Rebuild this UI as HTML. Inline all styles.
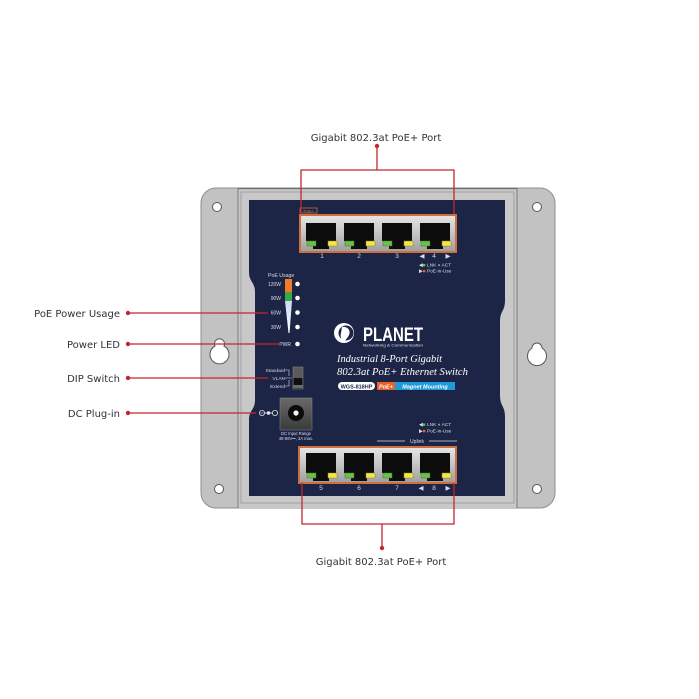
<!DOCTYPE html>
<html>
<head>
<meta charset="utf-8">
<style>
html,body{margin:0;padding:0;background:#fff;}
svg{display:block;}
.lbl{font-family:"DejaVu Sans","Liberation Sans",sans-serif;font-size:10px;fill:#333;}
.t{font-family:"Liberation Sans",sans-serif;fill:#d8dbe6;}
</style>
</head>
<body>
<svg width="699" height="699" viewBox="0 0 699 699" xmlns="http://www.w3.org/2000/svg">
<defs>
  <linearGradient id="pg" x1="0" y1="0" x2="0" y2="1">
    <stop offset="0" stop-color="#e6e6e6"/>
    <stop offset="0.5" stop-color="#c4c4c4"/>
    <stop offset="1" stop-color="#9e9e9e"/>
  </linearGradient>
  <linearGradient id="bar" x1="0" y1="0" x2="0" y2="1">
    <stop offset="0" stop-color="#c6dcf2"/>
    <stop offset="1" stop-color="#ffffff"/>
  </linearGradient>
  <linearGradient id="dc" x1="0" y1="0" x2="0" y2="1">
    <stop offset="0" stop-color="#6a6a6a"/>
    <stop offset="1" stop-color="#3a3a3a"/>
  </linearGradient>
</defs>

<!-- bracket / body -->
<rect x="201" y="188" width="354" height="320" rx="15" ry="15" fill="#c2c2c2" stroke="#8e8e8e" stroke-width="1"/>
<rect x="238" y="188" width="279" height="320" fill="#c8c8c8"/>
<line x1="238" y1="188" x2="238" y2="508" stroke="#7c7c7c" stroke-width="1"/>
<line x1="517" y1="188" x2="517" y2="508" stroke="#7c7c7c" stroke-width="1"/>
<rect x="241" y="192" width="273" height="311" fill="none" stroke="#a0a0a0" stroke-width="1"/>
<line x1="238" y1="188.5" x2="517" y2="188.5" stroke="#6e6e6e" stroke-width="1.2"/>

<!-- navy panel -->
<path d="M249,200 L505,200 L505,300 C505,312 500,310 500,322 L500,395 C500,407 505,405 505,417 L505,496 L249,496 L249,420 C249,410 255,410 255,400 L255,292 C255,282 249,282 249,272 Z" fill="#1d2546"/>

<!-- screw holes -->
<circle cx="217" cy="207" r="4.5" fill="#fff" stroke="#555" stroke-width="1"/>
<circle cx="219" cy="489" r="4.5" fill="#fff" stroke="#555" stroke-width="1"/>
<circle cx="537" cy="207" r="4.5" fill="#fff" stroke="#555" stroke-width="1"/>
<circle cx="537" cy="489" r="4.5" fill="#fff" stroke="#555" stroke-width="1"/>
<!-- keyholes -->
<g fill="#fff" stroke="#555" stroke-width="1">
  <path d="M215,346 A5,5 0 1 1 224,346 A9.5,9.5 0 1 1 215,346 Z"/>
  <path d="M532,348 A5,5 0 1 1 542,348 A9.5,9.5 0 1 1 532,348 Z"/>
</g>

<!-- top port box -->
<rect x="300" y="208" width="17" height="5" fill="none" stroke="#d8713a" stroke-width="0.7"/>
<text x="308.5" y="212.3" font-family="Liberation Sans,sans-serif" font-size="4" fill="#e07a3c" text-anchor="middle">PoE+</text>
<rect x="300" y="215" width="156" height="37" fill="url(#pg)" stroke="#cf6f3e" stroke-width="2"/>
<g id="tp">
  <path d="M306,223 H336 V241 H329 V249 H313 V241 H306 Z" fill="#0c0c0c"/>
  <rect x="307" y="241" width="9" height="5" fill="#6cc04a" stroke="#3d7a2a" stroke-width="0.5"/>
  <rect x="328" y="241" width="9" height="5" fill="#f2e64a" stroke="#8d8420" stroke-width="0.5"/>
</g>
<use href="#tp" x="38"/>
<use href="#tp" x="76"/>
<use href="#tp" x="114"/>
<g class="t" font-size="6.5" text-anchor="middle">
  <text x="322" y="258">1</text>
  <text x="359" y="258">2</text>
  <text x="397" y="258">3</text>
  <text x="434" y="258">4</text>
  <text x="422" y="258">◀</text>
  <text x="448" y="258">▶</text>
</g>
<g class="t" font-size="4.8">
  <text x="419" y="266.5">◀<tspan fill="#5fc04a">■</tspan> LNK <tspan fill="#5fc04a">●</tspan> ACT</text>
  <text x="419" y="272.5">▶<tspan fill="#e8622a">■</tspan> PoE-in-Use</text>
</g>

<!-- bottom port box -->
<g class="t" font-size="4.8">
  <text x="419" y="426">◀<tspan fill="#5fc04a">■</tspan> LNK <tspan fill="#5fc04a">●</tspan> ACT</text>
  <text x="419" y="432.5">▶<tspan fill="#e8622a">■</tspan> PoE-in-Use</text>
</g>
<line x1="377" y1="441" x2="405" y2="441" stroke="#d8dbe6" stroke-width="0.7"/>
<line x1="429" y1="441" x2="457" y2="441" stroke="#d8dbe6" stroke-width="0.7"/>
<text class="t" x="417" y="443" font-size="5" text-anchor="middle">Uplink</text>
<rect x="299" y="447" width="157" height="36" fill="url(#pg)" stroke="#cf6f3e" stroke-width="2"/>
<g id="bp">
  <path d="M306,453 H336 V473 H329 V481 H313 V473 H306 Z" fill="#0c0c0c"/>
  <rect x="307" y="473" width="9" height="5" fill="#6cc04a" stroke="#3d7a2a" stroke-width="0.5"/>
  <rect x="328" y="473" width="9" height="5" fill="#f2e64a" stroke="#8d8420" stroke-width="0.5"/>
</g>
<use href="#bp" x="38"/>
<use href="#bp" x="76"/>
<use href="#bp" x="114"/>
<g class="t" font-size="6.5" text-anchor="middle">
  <text x="321" y="490">5</text>
  <text x="359" y="490">6</text>
  <text x="397" y="490">7</text>
  <text x="434" y="490">8</text>
  <text x="421" y="490">◀</text>
  <text x="448" y="490">▶</text>
</g>

<!-- PoE usage LEDs -->
<text class="t" x="268" y="277" font-size="5.2">PoE Usage</text>
<g class="t" font-size="5" text-anchor="end">
  <text x="281" y="286">120W</text>
  <text x="281" y="300">90W</text>
  <text x="281" y="314.5">60W</text>
  <text x="281" y="329">30W</text>
  <text x="291" y="346">PWR</text>
</g>
<rect x="285" y="279" width="7" height="13" fill="#f07c28"/>
<rect x="285" y="292" width="7" height="9" fill="#3aa844"/>
<polygon points="285,301 292,301 289.5,333 288.5,333" fill="url(#bar)"/>
<g fill="#fff">
  <circle cx="297.5" cy="284" r="2.3"/>
  <circle cx="297.5" cy="298" r="2.3"/>
  <circle cx="297.5" cy="312.5" r="2.3"/>
  <circle cx="297.5" cy="327" r="2.3"/>
  <circle cx="297.5" cy="344" r="2.3"/>
</g>

<!-- DIP switch -->
<g class="t" font-size="4.8" text-anchor="end">
  <text x="285" y="372">Standard</text>
  <text x="285" y="380">VLAN</text>
  <text x="285" y="388">Extend</text>
</g>
<path d="M285,370 H289 V376 M285,386 H289 V380 M285,378 H292" stroke="#d8dbe6" stroke-width="0.6" fill="none"/>
<rect x="293" y="367" width="10" height="22" fill="#5a5a5a" stroke="#8a8a8a" stroke-width="0.5"/>
<rect x="293.5" y="378" width="9" height="10.5" fill="#0f0f0f"/>
<rect x="293.5" y="385" width="9" height="3" fill="#6a6a6a"/>

<!-- DC plug -->
<g stroke="#e8e8e8" stroke-width="0.8" fill="none">
  <circle cx="262" cy="413" r="2.6"/>
  <circle cx="275" cy="413" r="2.6"/>
  <line x1="264.6" y1="413" x2="272.4" y2="413"/>
</g>
<circle cx="268.5" cy="413" r="1.8" fill="#e8e8e8"/>
<line x1="260.5" y1="413" x2="263.5" y2="413" stroke="#e8e8e8" stroke-width="0.6"/>
<rect x="280" y="398" width="32" height="32" fill="url(#dc)" stroke="#888" stroke-width="0.5"/>
<circle cx="296" cy="413" r="8" fill="#0a0a0a"/>
<circle cx="296" cy="413" r="2.6" fill="#f2f2f2"/>
<g class="t" font-size="4.2" text-anchor="middle">
  <text x="296" y="435">DC Input Range</text>
  <text x="296" y="440">48-56V⎓, 3A max.</text>
</g>

<!-- PLANET logo -->
<circle cx="344" cy="333" r="10" fill="#fff"/>
<circle cx="346" cy="333" r="7.5" fill="#1d2546"/>
<path d="M342,327 C348,326 351,331 349,335 C347,339 345,340 344,343 C341,340 340,336 341,333 Z" fill="#fff"/>
<text x="363" y="341" font-family="Liberation Sans,sans-serif" font-weight="bold" font-size="19" fill="#fff" textLength="60" lengthAdjust="spacingAndGlyphs">PLANET</text>
<text x="363" y="346.5" font-family="Liberation Sans,sans-serif" font-size="4" fill="#e0e0e0" textLength="60" lengthAdjust="spacingAndGlyphs">Networking &amp; Communication</text>
<text x="337" y="362" font-family="Liberation Serif,serif" font-style="italic" font-size="11" fill="#fff" textLength="105" lengthAdjust="spacingAndGlyphs">Industrial 8-Port Gigabit</text>
<text x="337" y="375" font-family="Liberation Serif,serif" font-style="italic" font-size="11" fill="#fff" textLength="131" lengthAdjust="spacingAndGlyphs">802.3at PoE+ Ethernet Switch</text>
<rect x="338" y="382" width="37" height="8" rx="4" fill="#fff"/>
<text x="356.5" y="388.3" font-family="Liberation Sans,sans-serif" font-weight="bold" font-size="5.5" fill="#1d2546" text-anchor="middle">WGS-818HP</text>
<rect x="377" y="382" width="18" height="8" fill="#e8622a"/>
<text x="386" y="388.3" font-family="Liberation Sans,sans-serif" font-weight="bold" font-style="italic" font-size="5.5" fill="#fff" text-anchor="middle">PoE+</text>
<rect x="395" y="382" width="60" height="8" fill="#1e9ad6"/>
<text x="425" y="388.3" font-family="Liberation Sans,sans-serif" font-weight="bold" font-style="italic" font-size="5.5" fill="#fff" text-anchor="middle">Magnet Mounting</text>

<!-- red connectors -->
<g stroke="#c1272d" stroke-width="1.3" fill="none">
  <path d="M377,146 V170 M301,214 V170 H454 V214"/>
  <path d="M302,483 V524 H454 V483 M382,524 V548"/>
  <path d="M128,313 H268"/>
  <path d="M128,344 H281"/>
  <path d="M128,378 H268"/>
  <path d="M128,413 H256"/>
</g>
<g fill="#c1272d">
  <circle cx="377" cy="146" r="2.2"/>
  <circle cx="382" cy="548" r="2.2"/>
  <circle cx="128" cy="313" r="2.2"/>
  <circle cx="128" cy="344" r="2.2"/>
  <circle cx="128" cy="378" r="2.2"/>
  <circle cx="128" cy="413" r="2.2"/>
</g>

<!-- labels -->
<text class="lbl" x="376" y="141" text-anchor="middle">Gigabit 802.3at PoE+ Port</text>
<text class="lbl" x="381" y="565" text-anchor="middle">Gigabit 802.3at PoE+ Port</text>
<text class="lbl" x="120" y="317" text-anchor="end">PoE Power Usage</text>
<text class="lbl" x="120" y="348" text-anchor="end">Power LED</text>
<text class="lbl" x="120" y="382" text-anchor="end">DIP Switch</text>
<text class="lbl" x="120" y="417" text-anchor="end">DC Plug-in</text>
</svg>
</body>
</html>
